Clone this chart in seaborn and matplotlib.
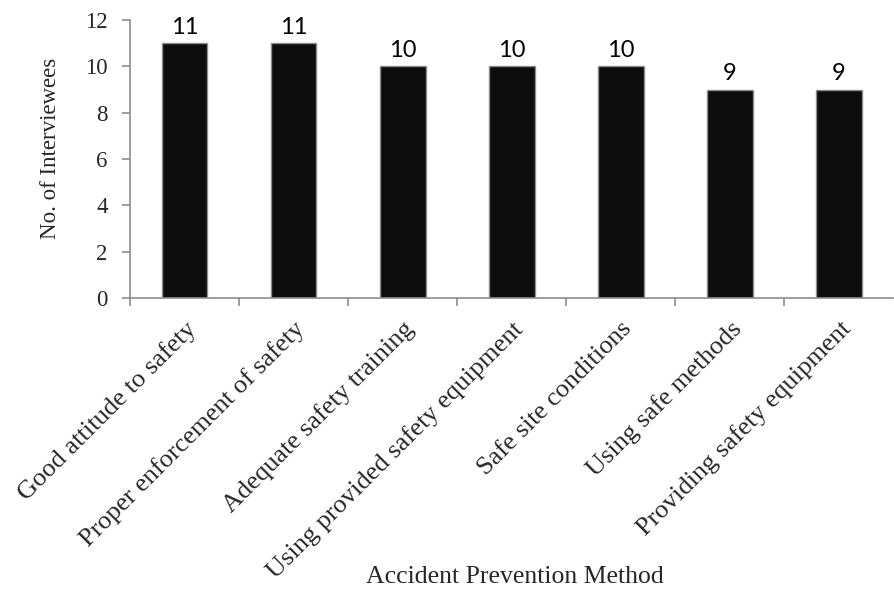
import matplotlib
matplotlib.use("Agg")
import matplotlib.pyplot as plt
import seaborn as sns
import pandas as pd

methods = [
    "Good attitude to safety",
    "Proper enforcement of safety",
    "Adequate safety training",
    "Using provided safety equipment",
    "Safe site conditions",
    "Using safe methods",
    "Providing safety equipment",
]
interviewees = [11, 11, 10, 10, 10, 9, 9]

df = pd.DataFrame({"method": methods, "count": interviewees})

sns.set_theme(style="white")
plt.rcParams["font.family"] = ["Liberation Serif", "DejaVu Serif"]

fig = plt.figure(figsize=(8.94, 5.89), dpi=100)
ax = fig.add_axes([0.1454, 0.494, 0.854, 0.472])

sns.barplot(data=df, x="method", y="count", color="#0d0d0d",
            edgecolor="#8c8c8c", linewidth=1.0, width=0.42,
            saturation=1, ax=ax)

for i, v in enumerate(interviewees):
    ax.annotate(str(v), (i, v), xytext=(0, 4), textcoords="offset points",
                ha="center", va="bottom", fontsize=17,
                family=["Lato", "DejaVu Sans"], color="black")

ax.set_ylim(0, 12)
ax.set_xlim(-0.5, len(methods) - 0.5)
ax.set_yticks(range(0, 13, 2))
ax.set_yticklabels([str(t) for t in range(0, 13, 2)], fontsize=16.5)

# category boundary ticks along the x axis
ax.set_xticks([i - 0.5 for i in range(len(methods))], minor=True)
ax.set_xticks(range(len(methods)))
ax.set_xticklabels(methods, rotation=45, ha="right",
                   rotation_mode="anchor", fontsize=19)
ax.tick_params(axis="x", which="major", length=0, pad=14)
ax.tick_params(axis="x", which="minor", length=6, width=1.2,
               color="#8c8c8c", direction="out", bottom=True)
ax.tick_params(axis="y", length=6, width=1.2, color="#8c8c8c",
               direction="out", left=True, pad=10)

for side in ["top", "right"]:
    ax.spines[side].set_visible(False)
for side in ["left", "bottom"]:
    ax.spines[side].set_color("#8c8c8c")
    ax.spines[side].set_linewidth(1.2)

ax.set_ylabel("No. of Interviewees", fontsize=16.5)
ax.yaxis.set_label_coords(-0.091, 0.54)
ax.set_xlabel("Accident Prevention Method", fontsize=18.5)
ax.xaxis.set_label_coords(0.504, -0.965)

fig.savefig("out.png", dpi=100)
